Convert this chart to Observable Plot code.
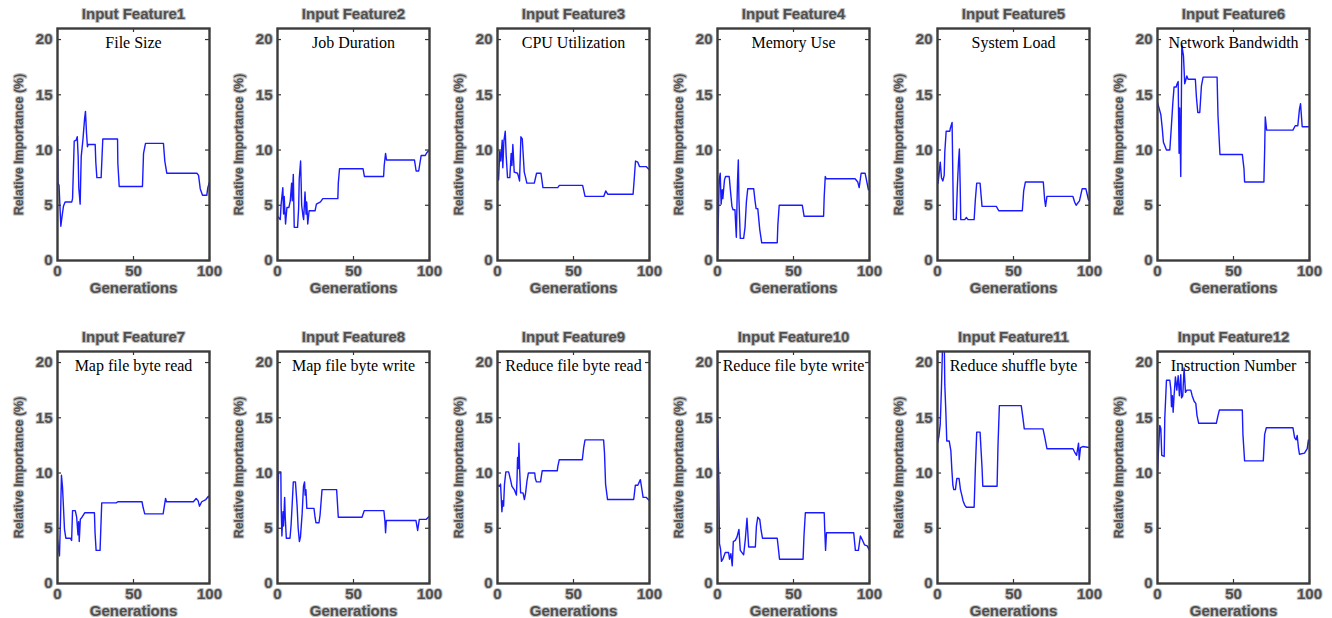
<!DOCTYPE html>
<html>
<head>
<meta charset="utf-8">
<script src="https://cdn.jsdelivr.net/npm/d3@7"></script>
<script src="https://cdn.jsdelivr.net/npm/@observablehq/plot@0.6"></script>
<style>
  html, body { margin: 0; padding: 0; background: #fff; }
  #wrap { position: relative; width: 1332px; height: 618px; overflow: hidden; background: #fff; }
  .panel { position: absolute; }
</style>
</head>
<body>
<div id="wrap"></div>
<script>
// ---- data (generation, relative importance %) ----
const titles = ["Input Feature1","Input Feature2","Input Feature3","Input Feature4","Input Feature5","Input Feature6",
                "Input Feature7","Input Feature8","Input Feature9","Input Feature10","Input Feature11","Input Feature12"];
const names = ["File Size","Job Duration","CPU Utilization","Memory Use","System Load","Network Bandwidth",
               "Map file byte read","Map file byte write","Reduce file byte read","Reduce file byte write","Reduce shuffle byte","Instruction Number"];
const xTicks = [0, 50, 100];
const yTicks = [0, 5, 10, 15, 20];
const xLabel = "Generations";
const yLabel = "Relative Importance (%)";

const f1 = [[0,11.2],[0.3,7.0],[1,6.8],[2.2,3.1],[2.9,3.9],[3.9,4.9],[5,5.3],[9.4,5.3],[9.9,5.6],[11,10.8],[12.3,10.9],[13,11.2],[13.6,9.4],[14,6.6],[14.9,5.1],[15.6,9.4],[16.7,10.9],[17.8,12.8],[18.4,13.5],[19.1,11.5],[19.7,10.3],[20.2,10.5],[24.8,10.5],[25.2,8.9],[25.9,7.5],[28.7,7.5],[29.8,11.0],[39.5,11.0],[39.7,8.8],[40.6,6.7],[55.9,6.7],[56.6,9.7],[57.9,10.6],[69.7,10.6],[70.6,9.0],[71.9,7.9],[91.7,7.9],[92.8,7.7],[93.9,6.5],[95.4,5.9],[98.2,5.9],[98.9,6.6],[100,7.1]];
const f2 = [[0,4.0],[1.8,3.7],[2.4,5.1],[3.5,6.6],[4.0,4.2],[4.4,5.8],[5.3,3.3],[6.2,4.8],[7.5,4.8],[8.4,5.4],[9.3,7.0],[9.7,5.4],[10.4,7.8],[11.0,3.0],[13.2,3.0],[13.9,4.7],[14.3,7.4],[15.2,9.0],[15.9,5.0],[16.8,4.0],[17.2,3.7],[18.1,6.2],[18.8,4.2],[19.2,5.3],[19.9,3.3],[20.8,4.5],[24.7,4.5],[25.6,5.1],[28.3,5.3],[29.8,5.6],[39.7,5.6],[40.0,7.0],[40.8,8.3],[56.3,8.3],[57.2,7.6],[69.8,7.6],[70.2,8.6],[71.1,9.7],[71.7,9.1],[90.1,9.1],[91.2,8.1],[92.9,8.1],[94.5,9.5],[97.1,9.5],[98.5,9.8],[100,10.0]];
const f3 = [[0,8.0],[0.7,7.3],[1.5,9.9],[2.2,9.0],[3.1,10.9],[3.5,8.4],[4.2,10.8],[5.1,11.7],[5.7,9.5],[6.6,7.5],[8.1,7.5],[9.0,9.7],[9.5,8.6],[10.1,10.5],[11.0,8.0],[13.2,7.9],[13.8,7.6],[14.5,7.2],[15.4,11.2],[16.3,11.0],[17.6,8.0],[18.5,7.5],[19.3,7.0],[24.2,7.0],[25.7,7.9],[28.6,7.9],[29.9,6.6],[39.6,6.6],[40.7,6.8],[56.0,6.8],[57.6,5.8],[69.9,5.8],[71.2,6.3],[72.5,6.0],[89.2,6.0],[89.7,6.9],[90.8,9.0],[92.3,8.9],[93.4,8.5],[97.8,8.5],[100,8.2]];
const f4 = [[0,0.3],[1.1,7.3],[1.8,7.9],[2.4,5.1],[3.1,6.4],[3.5,5.6],[4.6,7.3],[5.3,7.6],[7.7,7.6],[8.6,6.2],[9.5,4.9],[10.2,4.6],[11.5,4.6],[11.9,3.4],[12.4,2.1],[12.8,5.0],[13.2,7.3],[13.7,9.1],[14.1,5.6],[15.0,2.0],[17.2,2.0],[18.1,3.0],[19.0,5.3],[19.9,6.5],[23.8,6.5],[24.7,5.4],[25.4,4.7],[26.5,4.7],[27.8,2.8],[29.1,1.6],[39.3,1.6],[39.7,3.2],[40.6,5.0],[55.8,5.0],[57.0,4.0],[69.8,4.0],[70.2,5.8],[70.9,7.6],[71.5,7.4],[90.5,7.4],[92.3,7.1],[93.2,6.6],[94.5,7.9],[97.1,7.9],[99.3,6.4],[100,6.5]];
const f5 = [[0,8.1],[0.4,7.0],[1.8,8.9],[2.6,7.5],[3.5,7.2],[4.4,7.7],[4.8,9.8],[5.7,11.7],[8.1,11.7],[8.5,12.0],[9.6,12.5],[10.5,3.7],[12.3,3.7],[13.1,6.8],[13.8,8.9],[14.4,10.1],[14.9,6.9],[15.3,3.7],[17.9,3.7],[19.0,3.9],[20.1,3.7],[24.1,3.7],[24.9,5.5],[25.8,7.0],[28.0,7.0],[29.3,4.9],[38.7,4.9],[40.3,4.5],[55.8,4.5],[56.7,6.3],[57.8,7.1],[69.6,7.1],[70.5,5.5],[71.1,4.9],[72.0,5.8],[89.1,5.8],[90.2,5.3],[91.2,5.0],[93.4,5.4],[95.2,6.5],[97.6,6.5],[99.3,5.5],[100,5.4]];
const f6 = [[0,14.3],[2.2,13.2],[3.1,12.0],[3.9,10.7],[5.9,10.0],[8.1,10.0],[9.2,12.3],[10.1,14.3],[10.9,15.7],[12.3,15.7],[12.9,16.0],[13.6,16.2],[14.2,9.7],[14.6,13.8],[15.3,7.6],[16.0,19.5],[17.1,18.5],[17.9,16.0],[19.3,16.7],[20.1,16.4],[24.9,16.4],[25.6,14.8],[26.5,13.4],[27.8,13.4],[28.9,15.8],[30.0,16.6],[39.2,16.6],[39.8,13.1],[41.1,9.6],[55.8,9.6],[56.9,8.3],[57.3,7.1],[70.0,7.1],[70.5,10.0],[70.9,13.0],[71.8,11.8],[89.1,11.8],[90.6,12.2],[92.3,12.2],[93.4,13.7],[94.1,14.2],[95.2,12.1],[100,12.1]];
const f7 = [[0,4.0],[0.7,3.1],[1.3,2.5],[2.0,6.0],[2.6,9.8],[3.3,8.7],[4.0,6.7],[4.6,4.9],[5.5,4.1],[8.4,4.1],[9.3,3.9],[9.9,6.6],[11.7,6.6],[12.6,6.0],[13.5,4.4],[13.9,5.6],[14.3,3.8],[15.0,5.8],[16.1,6.0],[17.9,6.4],[24.3,6.4],[24.7,4.6],[25.4,3.0],[28.0,3.0],[29.1,7.3],[38.6,7.3],[39.7,7.4],[55.6,7.4],[56.3,6.9],[57.4,6.3],[69.5,6.3],[70.4,7.1],[71.1,7.7],[71.7,7.4],[89.4,7.4],[91.2,7.7],[92.5,7.5],[93.4,7.0],[94.9,7.4],[97.6,7.6],[99.3,7.9],[100,7.8]];
const f8 = [[0,5.0],[0.3,7.6],[0.7,10.1],[2.2,10.1],[2.4,7.0],[2.9,4.3],[3.6,6.5],[4.0,5.2],[4.7,7.8],[5.1,6.0],[5.8,4.1],[8.2,4.1],[8.9,5.2],[9.6,7.0],[10.4,9.2],[11.8,9.2],[12.9,7.0],[13.6,5.0],[14.4,3.8],[15.1,4.2],[16.2,6.3],[17.1,8.8],[17.8,9.2],[18.2,8.0],[18.7,8.5],[19.3,6.8],[24.0,6.8],[24.7,6.0],[25.3,5.5],[27.3,5.5],[28.0,6.2],[29.3,8.5],[38.9,8.5],[40.0,6.0],[55.6,6.0],[57.1,6.6],[70.0,6.6],[70.7,5.6],[71.1,4.6],[71.6,5.7],[91.1,5.7],[92.2,4.8],[93.3,5.8],[97.8,5.8],[100,6.1]];
const f9 = [[0,8.9],[1.3,8.8],[2.0,9.0],[2.9,6.5],[3.5,7.5],[4.0,7.0],[4.6,9.0],[5.5,10.1],[7.3,10.1],[8.4,9.5],[9.5,8.8],[11.0,8.5],[12.4,8.0],[12.8,9.2],[13.2,11.4],[13.7,10.4],[14.1,12.7],[14.6,10.2],[15.2,8.2],[16.8,8.2],[17.7,7.6],[18.5,8.2],[19.4,9.3],[20.3,10.0],[24.5,10.0],[24.9,9.5],[25.6,9.2],[28.3,9.2],[29.4,10.2],[39.3,10.2],[39.7,10.6],[40.6,11.2],[55.8,11.2],[56.7,12.3],[57.6,13.0],[69.8,13.0],[70.4,11.8],[71.1,9.0],[72.4,7.6],[89.6,7.6],[90.7,8.9],[92.3,8.9],[94.0,9.4],[94.9,8.6],[95.8,7.8],[97.8,7.8],[100,7.5]];
const f10 = [[0,14.7],[0.9,9.2],[1.3,3.6],[2.0,3.1],[2.6,2.0],[3.5,2.2],[5.1,2.8],[7.3,2.8],[7.9,2.2],[8.8,2.7],[9.7,1.6],[10.4,3.8],[11.7,3.9],[12.8,4.2],[14.1,4.9],[15.0,3.0],[16.1,2.8],[17.2,2.6],[18.3,4.0],[19.4,5.9],[20.5,3.3],[24.9,3.3],[25.6,5.2],[26.5,6.0],[27.8,5.8],[28.7,4.8],[29.6,4.1],[39.3,4.1],[40.2,3.0],[40.8,2.2],[56.3,2.2],[56.9,4.3],[57.8,6.4],[70.2,6.4],[70.6,4.7],[71.1,3.0],[71.7,4.6],[89.6,4.6],[90.7,3.0],[92.7,3.0],[94.0,4.3],[95.1,4.0],[96.7,3.5],[98.5,3.4],[100,3.0]];
const f11 = [[0,12.7],[0.9,13.3],[1.8,14.4],[2.6,17.7],[3.5,22.5],[4.4,22.5],[4.8,18.0],[5.5,15.5],[6.1,12.9],[7.7,12.9],[8.8,12.0],[9.4,10.4],[10.1,8.9],[10.7,8.5],[11.8,8.5],[12.7,9.5],[14.2,9.5],[15.1,8.5],[16.0,8.0],[16.8,7.5],[17.9,7.1],[19.0,6.9],[24.1,6.9],[24.9,10.4],[25.8,13.7],[28.0,13.7],[29.3,10.5],[29.8,8.8],[39.2,8.8],[39.8,12.5],[40.7,16.1],[55.1,16.1],[56.2,15.0],[57.1,14.0],[69.4,14.0],[70.5,13.3],[72.0,12.2],[89.1,12.2],[90.2,11.9],[91.5,11.6],[92.8,12.7],[93.2,11.2],[94.1,12.3],[95.6,12.4],[100,12.3]];
const f12 = [[0,10.2],[0.7,12.2],[1.5,14.3],[2.2,14.0],[2.8,11.6],[4.4,11.5],[4.8,15.0],[5.9,18.4],[8.1,18.4],[8.8,17.5],[9.2,16.0],[9.8,17.0],[10.3,15.5],[10.9,17.0],[11.8,18.7],[12.7,17.5],[13.6,18.8],[14.4,17.0],[15.3,18.9],[15.8,16.8],[16.6,17.0],[17.5,19.5],[18.4,17.3],[19.3,17.5],[21.9,17.5],[22.8,17.0],[24.1,16.5],[25.2,16.3],[26.0,15.2],[27.1,14.5],[38.7,14.5],[39.8,15.2],[40.7,15.7],[55.8,15.7],[56.2,13.5],[57.3,11.1],[69.6,11.1],[70.5,13.5],[71.6,14.1],[89.1,14.1],[90.2,13.2],[91.2,13.0],[91.9,13.4],[92.8,12.2],[93.4,11.7],[96.7,11.8],[98.5,12.2],[99.3,13.0],[100,12.6]];

const series = [f1,f2,f3,f4,f5,f6,f7,f8,f9,f10,f11,f12];

// ---- layout / style ----
const W = 220, H = 300, mL = 57, mR = 11, mT = 28, mB = 40;
const pw = W - mL - mR, ph = H - mT - mB;
const halo = {fill: "#505050", stroke: "#c2c2c2", strokeWidth: 2.2, fontWeight: "bold", fontFamily: "Liberation Sans, Arial, sans-serif", fontSize: 15};
const wrap = document.getElementById("wrap");

series.forEach((data, i) => {
  const col = i % 6, row = Math.floor(i / 6);
  const chart = Plot.plot({
    width: W, height: H,
    marginLeft: mL, marginRight: mR, marginTop: mT, marginBottom: mB,
    x: {domain: [0, 100], axis: null},
    y: {domain: [0, 21], axis: null},
    style: {background: "transparent", overflow: "visible"},
    marks: [
      Plot.line(data, {x: d => d[0], y: d => d[1], stroke: "#1a1aff", strokeWidth: 1.4, clip: true}),
      Plot.tickY(yTicks, {y: d => d, insetRight: pw - 4, stroke: "#333", strokeWidth: 1.2}),
      Plot.tickY(yTicks, {y: d => d, insetLeft: pw - 4, stroke: "#333", strokeWidth: 1.2}),
      Plot.tickX(xTicks, {x: d => d, insetTop: ph - 4, stroke: "#333", strokeWidth: 1.2}),
      Plot.tickX(xTicks, {x: d => d, insetBottom: ph - 4, stroke: "#333", strokeWidth: 1.2}),
      Plot.frame({stroke: "#3c3c3c", strokeWidth: 2.4}),
      Plot.text(yTicks, {y: d => d, text: d => String(d), frameAnchor: "left", dx: -5, textAnchor: "end", ...halo}),
      Plot.text(xTicks, {x: d => d, text: d => String(d), frameAnchor: "bottom", dy: 11, lineAnchor: "middle", ...halo}),
      Plot.text([xLabel], {text: d => d, frameAnchor: "bottom", dy: 28, lineAnchor: "middle", ...halo}),
      Plot.text([yLabel], {text: d => d, frameAnchor: "left", dx: -39, rotate: -90, textAnchor: "middle", lineAnchor: "middle", ...halo, fontSize: 12.5}),
      Plot.text([titles[i]], {text: d => d, frameAnchor: "top", dy: -14, lineAnchor: "middle", ...halo}),
      Plot.text([names[i]], {text: d => d, frameAnchor: "top", dy: 14, lineAnchor: "middle", fill: "#000", fontFamily: "Liberation Serif, Times New Roman, serif", fontSize: 16})
    ]
  });
  const div = document.createElement("div");
  div.className = "panel";
  div.style.left = (col * 220) + "px";
  div.style.top = (row * 323) + "px";
  div.appendChild(chart);
  wrap.appendChild(div);
});
</script>
</body>
</html>
